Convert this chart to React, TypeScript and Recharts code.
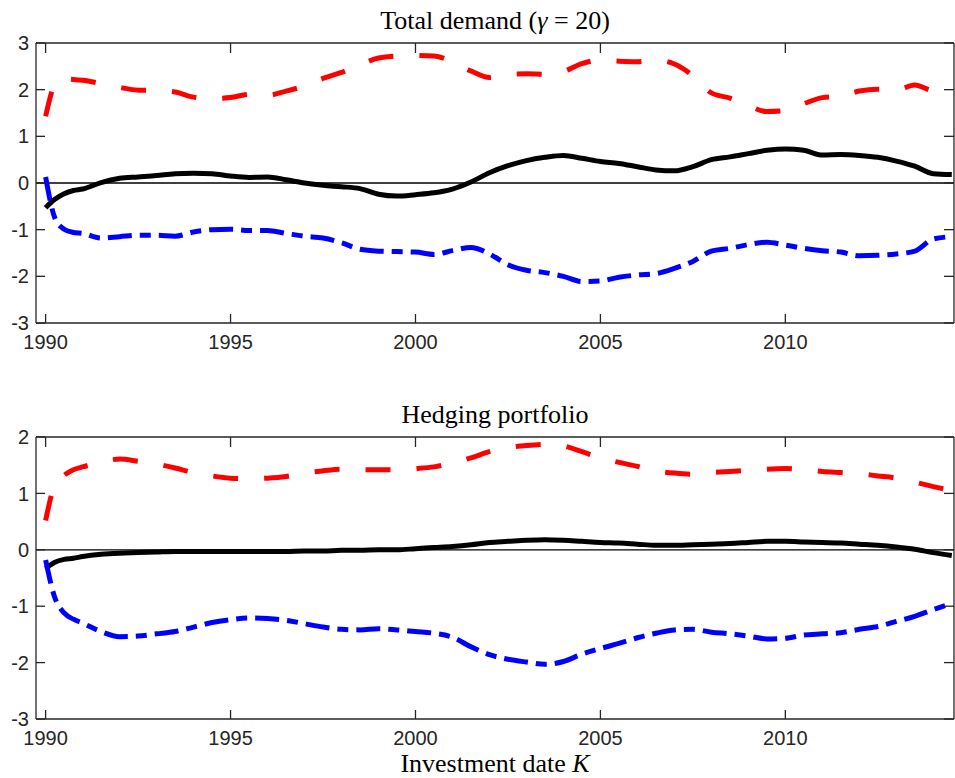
import { LineChart, Line, XAxis, YAxis, ReferenceLine, Label } from 'recharts';

// Investment dates (years); first year sampled quarterly, then half-yearly
const YEARS = [
  1990, 1990.25, 1990.5, 1990.75,
  1991, 1991.5, 1992, 1992.5, 1993, 1993.5, 1994, 1994.5, 1995, 1995.5,
  1996, 1996.5, 1997, 1997.5, 1998, 1998.5, 1999, 1999.5, 2000, 2000.5,
  2001, 2001.5, 2002, 2002.5, 2003, 2003.5, 2004, 2004.5, 2005, 2005.5,
  2006, 2006.5, 2007, 2007.5, 2008, 2008.5, 2009, 2009.5, 2010, 2010.5,
  2011, 2011.5, 2012, 2012.5, 2013, 2013.5, 2014, 2014.5,
];

// Total demand (gamma = 20)
const DEMAND_UPPER = [
  1.43, 2.1, 2.23, 2.22,
  2.2, 2.13, 2.05, 1.99, 1.98, 1.95, 1.84, 1.81, 1.83, 1.9,
  1.88, 1.97, 2.08, 2.24, 2.37, 2.53, 2.68, 2.72, 2.73, 2.72,
  2.6, 2.4, 2.26, 2.32, 2.34, 2.33, 2.39, 2.56, 2.63, 2.61,
  2.6, 2.63, 2.55, 2.3, 1.93, 1.82, 1.66, 1.53, 1.55, 1.7,
  1.83, 1.86, 1.97, 2.01, 1.99, 2.1, 1.98, 2.0,
];
const DEMAND_MID = [
  -0.53, -0.35, -0.23, -0.16,
  -0.13, 0.01, 0.1, 0.13, 0.16, 0.2, 0.21, 0.2, 0.15, 0.12,
  0.13, 0.07, 0.0, -0.05, -0.08, -0.12, -0.24, -0.28, -0.25, -0.21,
  -0.13, 0.02, 0.22, 0.37, 0.48, 0.55, 0.59, 0.53, 0.46, 0.42,
  0.35, 0.28, 0.26, 0.35, 0.5, 0.56, 0.63, 0.7, 0.73, 0.7,
  0.6, 0.61, 0.59, 0.55, 0.47, 0.36, 0.2, 0.18,
];
const DEMAND_LOWER = [
  0.13, -0.75, -0.99, -1.06,
  -1.08, -1.18, -1.15, -1.12, -1.12, -1.14, -1.05, -1.0, -0.99, -1.02,
  -1.02, -1.08, -1.14, -1.18, -1.28, -1.42, -1.46, -1.47, -1.48, -1.53,
  -1.45, -1.38, -1.52, -1.75, -1.87, -1.92, -2.0, -2.11, -2.1, -2.02,
  -1.97, -1.94, -1.83, -1.68, -1.46, -1.4, -1.32, -1.27, -1.33, -1.4,
  -1.45, -1.48, -1.56, -1.55, -1.52, -1.46, -1.2, -1.15,
];

// Hedging portfolio
const HEDGE_UPPER = [
  0.52, 1.15, 1.32, 1.42,
  1.47, 1.55, 1.61, 1.57, 1.52, 1.45, 1.37, 1.31, 1.27, 1.26,
  1.27, 1.3, 1.36, 1.4, 1.43, 1.42, 1.42, 1.42, 1.44, 1.47,
  1.54, 1.63, 1.74, 1.81, 1.85, 1.87, 1.84, 1.74, 1.63, 1.55,
  1.48, 1.4, 1.36, 1.34, 1.37, 1.39, 1.41, 1.43, 1.44, 1.42,
  1.39, 1.37, 1.35, 1.31, 1.27, 1.2, 1.12, 1.05,
];
const HEDGE_MID = [
  -0.33, -0.22, -0.17, -0.15,
  -0.12, -0.08, -0.06, -0.05, -0.04, -0.03, -0.03, -0.03, -0.03, -0.03,
  -0.03, -0.03, -0.02, -0.02, -0.01, -0.01, 0.0, 0.0, 0.02, 0.04,
  0.06, 0.09, 0.13, 0.15, 0.17, 0.18, 0.17, 0.15, 0.13, 0.12,
  0.1, 0.08, 0.08, 0.09, 0.1, 0.11, 0.13, 0.15, 0.15, 0.14,
  0.13, 0.12, 0.1, 0.08, 0.05, 0.01, -0.05, -0.1,
];
const HEDGE_LOWER = [
  -0.18, -0.85, -1.12, -1.23,
  -1.3, -1.45, -1.54, -1.53, -1.49, -1.45, -1.37, -1.29, -1.24, -1.21,
  -1.22, -1.25, -1.31, -1.37, -1.41, -1.42, -1.4, -1.42, -1.45, -1.48,
  -1.55, -1.72, -1.86, -1.94, -1.99, -2.03, -1.98, -1.85, -1.75, -1.66,
  -1.56, -1.48, -1.42, -1.41, -1.46, -1.49, -1.53, -1.58, -1.57, -1.51,
  -1.49, -1.47, -1.41, -1.36, -1.27, -1.18, -1.06, -0.95,
];

const YEAR_TICKS = [1990, 1995, 2000, 2005, 2010];
const DEMAND_TICKS = [-3, -2, -1, 0, 1, 2, 3];
const HEDGE_TICKS = [-3, -2, -1, 0, 1, 2];

const demandData = YEARS.map((year, i) => ({
  year,
  upper: DEMAND_UPPER[i],
  mid: DEMAND_MID[i],
  lower: DEMAND_LOWER[i],
}));
const hedgeData = YEARS.map((year, i) => ({
  year,
  upper: HEDGE_UPPER[i],
  mid: HEDGE_MID[i],
  lower: HEDGE_LOWER[i],
}));

const X_DOMAIN: [number, number] = [1989.74, 2014.56];
const AXIS_COLOR = '#262626';
const SANS = '"Liberation Sans", Arial, Helvetica, sans-serif';
const SERIF = '"Liberation Serif", "Times New Roman", serif';
const TICK = { fill: AXIS_COLOR, fontSize: 20, fontFamily: SANS };
const TICK_LEN = -9; // negative => ticks point into the plot box
const LINE_W = 5;

// tick marks without labels on the top/right frame
const noLabel = () => <g />;

function TitleText({ viewBox, children, y }: any) {
  const vb = viewBox || {};
  return (
    <text
      x={vb.x + vb.width / 2}
      y={y}
      textAnchor="middle"
      fontFamily={SERIF}
      fontSize={26}
      fill="#000"
    >
      {children}
    </text>
  );
}

type PanelProps = {
  data: typeof demandData;
  top: number;
  height: number;
  marginTop: number;
  marginBottom: number;
  yDomain: [number, number];
  yTicks: number[];
  title: React.ReactNode;
  xLabel?: React.ReactNode;
};

function Panel({ data, top, height, marginTop, marginBottom, yDomain, yTicks, title, xLabel }: PanelProps) {
  const plotBottom = height - marginBottom - 30;
  return (
    <LineChart
      width={955}
      height={height}
      data={data}
      margin={{ top: marginTop - 1, right: 0, bottom: marginBottom, left: 0 }}
      style={{ position: 'absolute', left: 0, top }}
    >
      <XAxis
        xAxisId="b"
        dataKey="year"
        type="number"
        domain={X_DOMAIN}
        ticks={YEAR_TICKS}
        interval={0}
        height={30}
        tick={TICK}
        tickSize={TICK_LEN}
        tickMargin={21}
        stroke={AXIS_COLOR}
        strokeWidth={1.3}
      >
        <Label
          content={(p: any) => (
            <>
              <TitleText {...p} y={marginTop - 14.5}>{title}</TitleText>
              {xLabel && <TitleText {...p} y={plotBottom + 53}>{xLabel}</TitleText>}
            </>
          )}
        />
      </XAxis>
      <XAxis
        xAxisId="t"
        orientation="top"
        dataKey="year"
        type="number"
        domain={X_DOMAIN}
        ticks={YEAR_TICKS}
        interval={0}
        height={1}
        tick={noLabel}
        tickSize={TICK_LEN - 1}
        stroke={AXIS_COLOR}
        strokeWidth={1.3}
      />
      <YAxis
        yAxisId="l"
        type="number"
        domain={yDomain}
        ticks={yTicks}
        interval={0}
        width={36}
        tick={TICK}
        tickSize={TICK_LEN}
        tickMargin={16}
        stroke={AXIS_COLOR}
        strokeWidth={1.3}
      />
      <YAxis
        yAxisId="r"
        orientation="right"
        type="number"
        domain={yDomain}
        ticks={yTicks}
        interval={0}
        width={1}
        tick={noLabel}
        tickSize={TICK_LEN - 1}
        stroke={AXIS_COLOR}
        strokeWidth={1.3}
      />
      <ReferenceLine xAxisId="b" yAxisId="l" y={0} stroke="#000" strokeWidth={1.3} />
      {/* unstroked copy so the top/right frame axes get a scale */}
      <Line
        xAxisId="t"
        yAxisId="r"
        dataKey="mid"
        stroke="none"
        strokeWidth={0}
        dot={false}
        activeDot={false}
        isAnimationActive={false}
      />
      <Line
        xAxisId="b"
        yAxisId="l"
        dataKey="mid"
        type="monotone"
        stroke="#000000"
        strokeWidth={LINE_W}
        dot={false}
        isAnimationActive={false}
      />
      <Line
        xAxisId="b"
        yAxisId="l"
        dataKey="upper"
        type="monotone"
        stroke="#ff0000"
        strokeWidth={LINE_W}
        strokeDasharray="25 26"
        dot={false}
        isAnimationActive={false}
      />
      <Line
        xAxisId="b"
        yAxisId="l"
        dataKey="lower"
        type="monotone"
        stroke="#0000ff"
        strokeWidth={LINE_W}
        strokeDasharray="24 8 11 8"
        dot={false}
        isAnimationActive={false}
      />
    </LineChart>
  );
}

export default function App() {
  return (
    <div style={{ position: 'absolute', left: 0, top: 0, width: 955, height: 778, background: '#fff' }}>
      <Panel
        data={demandData}
        top={0}
        height={360}
        marginTop={43}
        marginBottom={7}
        yDomain={[-3, 3]}
        yTicks={DEMAND_TICKS}
        title={
          <>
            Total demand (<tspan fontStyle="italic">γ</tspan> = 20)
          </>
        }
      />
      <Panel
        data={hedgeData}
        top={395}
        height={383}
        marginTop={42}
        marginBottom={29}
        yDomain={[-3, 2]}
        yTicks={HEDGE_TICKS}
        title="Hedging portfolio"
        xLabel={
          <>
            Investment date <tspan fontStyle="italic">K</tspan>
          </>
        }
      />
    </div>
  );
}
